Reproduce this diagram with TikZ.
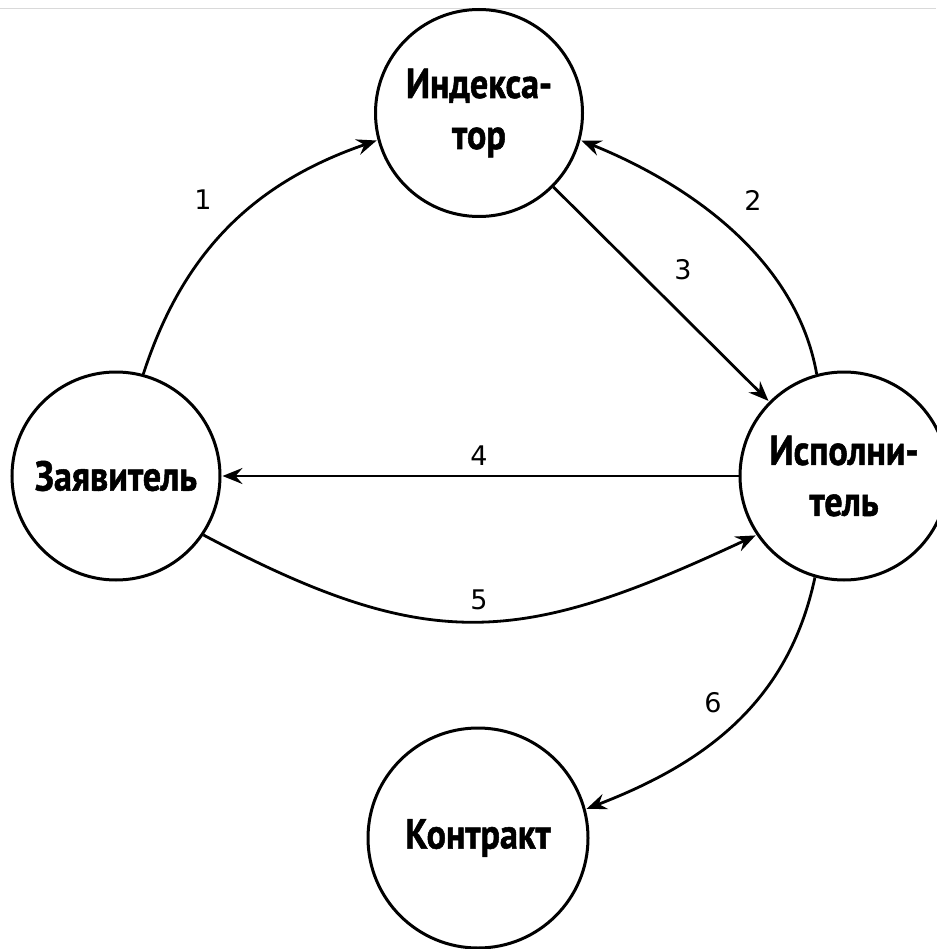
\documentclass[tikz,border=0pt]{standalone}
\usepackage{fontspec}
\newfontfamily\nodefont[FakeStretch=0.86,FakeBold=1.2]{PT Sans}
\newfontfamily\labfont{DejaVu Sans}
\usetikzlibrary{arrows.meta}
\begin{document}
\begin{tikzpicture}[x=1pt,y=1pt,
  entity/.style={circle,draw,line width=3pt,inner sep=0pt,align=center,
    font=\nodefont\bfseries\fontsize{42}{51}\selectfont},
  conn/.style={line width=2.8pt,-{Stealth[length=20pt,width=16pt,inset=7pt]},shorten >=1pt},
  numlab/.style={font=\labfont\fontsize{27}{30}\selectfont}]
\useasboundingbox (0,0) rectangle (936,-949);
\draw[gray!30,line width=1pt] (0,-9) -- (936,-9);
\node[entity,minimum size=207pt] (I) at (479,-113) {Индекса-\\тор};
\node[entity,minimum size=208pt] (Z) at (116,-476) {Заявитель};
\node[entity,minimum size=208pt] (S) at (844,-476) {Исполни-\\тель};
\node[entity,minimum size=220pt] (K) at (478,-838) {Контракт};
\draw[conn] (Z.75) to[out=72,in=199] (I.195);
\draw[conn] (S.105) to[out=100,in=-22,looseness=0.9] (I.-15);
\draw[conn] (I) -- (S);
\draw[conn] (S) -- (Z);
\draw[conn] (Z.-34) to[out=-28,in=205,looseness=1.2] (S.214);
\draw[conn] (S.-106) to[out=-102,in=21] (K.15);
\node[numlab] (l1) at (203,-200) {1};
\node[numlab] (l2) at (753,-200) {2};
\node[numlab] (l3) at (683,-270) {3};
\node[numlab] (l4) at (479,-456) {4};
\node[numlab] (l5) at (479,-600) {5};
\node[numlab] (l6) at (713,-703) {6};
\end{tikzpicture}
\end{document}
